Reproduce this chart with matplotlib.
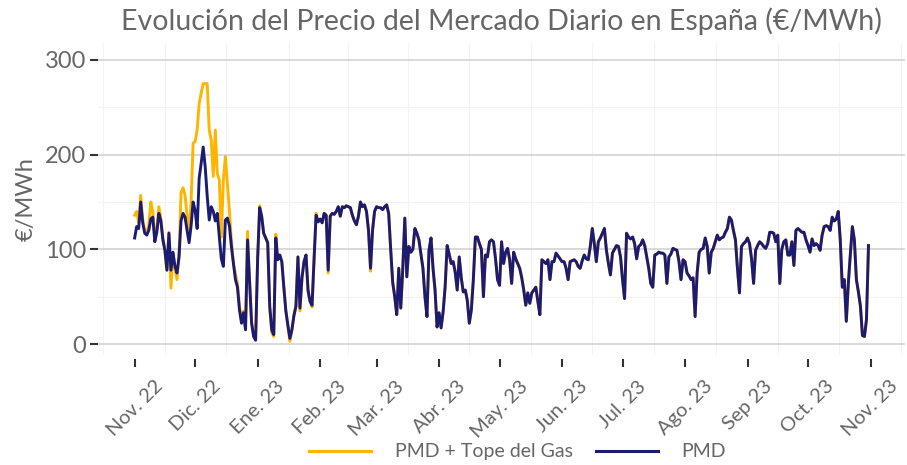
import matplotlib
matplotlib.use("Agg")
import matplotlib.pyplot as plt
import matplotlib.dates as mdates
import matplotlib.transforms as mtransforms
import numpy as np
import pandas as pd

# ---------------- data ----------------
start_date = "2022-11-01"

pmd_nov22 = [112, 124, 122, 150, 128, 117, 115, 120, 132, 134,
             108, 118, 138, 130, 110, 99, 78, 117, 78, 97,
             82, 75, 92, 130, 138, 134, 120, 107, 125, 150]
pmd_dic22 = [141, 122, 175, 191, 208, 187, 156, 131, 145, 140,
             130, 138, 113, 90, 82, 131, 133, 125, 103, 85,
             68, 60, 36, 22, 33, 15, 110, 65, 22, 8, 4]
pmd_ene23 = [90, 144, 135, 117, 112, 107, 40, 15, 10, 112,
             89, 94, 87, 60, 35, 20, 6, 15, 30, 40,
             92, 38, 70, 87, 94, 57, 45, 41, 90, 136, 129]
pmd_feb23 = [132, 128, 138, 136, 78, 135, 138, 137, 140, 145,
             135, 145, 144, 146, 145, 144, 136, 130, 126, 135,
             150, 145, 147, 140, 120, 80, 120, 140]
pmd_mar23 = [145, 144, 144, 142, 145, 147, 138, 100, 65, 50,
             31, 80, 38, 80, 133, 71, 103, 97, 100, 122,
             117, 110, 95, 80, 50, 29, 99, 112, 80, 57, 18]
pmd_abr23 = [33, 17, 34, 60, 104, 95, 85, 87, 76, 57,
             92, 70, 55, 57, 46, 22, 36, 68, 113, 113,
             106, 100, 50, 94, 92, 108, 110, 108, 90, 68]
pmd_may23 = [62, 108, 85, 97, 101, 89, 64, 97, 90, 85,
             80, 70, 57, 41, 54, 43, 54, 57, 60, 45,
             31, 89, 87, 85, 89, 68, 87, 87, 96, 93, 90]
pmd_jun23 = [87, 87, 80, 68, 87, 88, 89, 87, 82, 80,
             88, 94, 90, 89, 103, 122, 106, 87, 108, 112,
             117, 122, 99, 85, 73, 96, 100, 104, 103, 92]
pmd_jul23 = [68, 48, 117, 113, 111, 113, 106, 90, 103, 105,
             110, 104, 92, 80, 64, 60, 94, 95, 97, 96,
             96, 94, 64, 92, 95, 101, 100, 99, 87, 68, 89]
pmd_ago23 = [87, 75, 72, 68, 70, 29, 75, 97, 100, 101,
             112, 103, 75, 97, 101, 108, 115, 110, 112, 113,
             118, 122, 134, 131, 120, 110, 80, 54, 103, 106, 108]
pmd_sep23 = [112, 106, 90, 64, 99, 104, 108, 106, 103, 101,
             106, 118, 118, 117, 108, 115, 64, 100, 108, 110,
             94, 94, 108, 83, 120, 122, 120, 118, 118, 110]
pmd_oct23 = [104, 97, 111, 104, 106, 104, 99, 115, 124, 125,
             124, 120, 134, 130, 132, 140, 110, 60, 68, 24,
             64, 95, 124, 110, 68, 55, 40, 9, 8, 26, 104]

# PMD + Tope del Gas (Nov.-Dic. 2022, read directly)
tope_nov22 = [136, 140, 128, 157, 132, 120, 118, 125, 150, 140,
              112, 122, 145, 133, 112, 100, 78, 118, 59, 97,
              80, 68, 92, 160, 165, 157, 135, 114, 150, 212]
tope_dic22 = [214, 226, 254, 265, 275, 275, 275, 226, 215, 177,
              226, 180, 173, 113, 173, 198, 170, 141, 109, 85,
              74, 64, 40, 25, 35, 16, 119, 68, 24, 10, 5]
# small difference of the capped series vs PMD, Ene.-Feb. 2023
ajuste_ene_feb23 = [0, 2, 0, 0, 0, 0, -2, -3, -2, 4,
                    0, 0, 0, 0, 0, -2, -3, 0, 0, 0,
                    0, -3, 0, 0, 0, -2, 0, -2, 0, 2, 0,
                    0, 0, 0, 0, -3, 0, 0, 0, 0, 0,
                    0, 0, 0, 0, 0, 0, 0, 0, 0, 0,
                    0, 0, 0, 0, 0, -3, 0, 0]

month_labels = ["Nov. 22", "Dic. 22", "Ene. 23", "Feb. 23", "Mar. 23",
                "Abr. 23", "May. 23", "Jun. 23", "Jul. 23", "Ago. 23",
                "Sep 23", "Oct. 23", "Nov. 23"]

title = "Evolución del Precio del Mercado Diario en España (€/MWh)"
ylabel = "€/MWh"
legend_labels = ["PMD + Tope del Gas", "PMD"]

# ---------------- build series ----------------
pmd = (pmd_nov22 + pmd_dic22 + pmd_ene23 + pmd_feb23 + pmd_mar23 + pmd_abr23
       + pmd_may23 + pmd_jun23 + pmd_jul23 + pmd_ago23 + pmd_sep23 + pmd_oct23)
dates = pd.date_range(start_date, periods=len(pmd), freq="D")
xd = mdates.date2num(dates.to_pydatetime())

n_2022 = len(tope_nov22) + len(tope_dic22)
tope = list(tope_nov22) + list(tope_dic22)
rest = pmd[n_2022:]
adj = ajuste_ene_feb23 + [0] * (len(rest) - len(ajuste_ene_feb23))
tope += [p + a for p, a in zip(rest, adj)]

# ---------------- styling ----------------
YELLOW = "#FFB400"
NAVY = "#1B1B73"
TXT = "#666666"
FONT = ["Lato", "DejaVu Sans"]

plt.rcParams["font.family"] = FONT

fig = plt.figure(figsize=(9.07, 4.65), dpi=100)
ax = fig.add_axes([0.108, 0.2357, 0.890, 0.672])

ax.plot(xd, tope, color=YELLOW, lw=2.1, solid_joinstyle="round", zorder=3)
ax.plot(xd, pmd, color=NAVY, lw=2.1, solid_joinstyle="round", zorder=4)

x0 = xd[0] - 18.2
x1 = xd[-1] + 18.2
ax.set_xlim(x0, x1)
ax.set_ylim(-12, 318)

# ticks
major = mdates.date2num(pd.date_range("2022-11-01", "2023-11-01",
                                      freq="MS").to_pydatetime())
mids = [(major[i] + major[i + 1]) / 2 for i in range(len(major) - 1)]
mids = [major[0] - 15.5] + mids + [major[-1] + 15]
ax.xaxis.set_major_locator(matplotlib.ticker.FixedLocator(major))
ax.xaxis.set_major_formatter(matplotlib.ticker.FixedFormatter(month_labels))
ax.xaxis.set_minor_locator(matplotlib.ticker.FixedLocator(mids))

ax.set_yticks([0, 100, 200, 300])
ax.set_yticklabels(["0", "100", "200", "300"], fontsize=17, color=TXT)
ax.set_yticks([50, 150, 250], minor=True)

ax.tick_params(axis="x", which="major", length=5.5, width=1.5, color="#333333",
               pad=8, labelsize=14.5, labelcolor=TXT, labelrotation=45)
ax.tick_params(axis="y", which="major", length=5.5, width=1.5, color="#333333",
               pad=3)
ax.tick_params(which="minor", length=0)
offset = mtransforms.ScaledTranslation(3 / 100, 0, fig.dpi_scale_trans)
for lab in ax.get_xticklabels():
    lab.set_horizontalalignment("center")
    lab.set_verticalalignment("top")
    lab.set_rotation(45)
    lab.set_transform(lab.get_transform() + offset)

for s in ["top", "right", "left"]:
    ax.spines[s].set_visible(False)
ax.spines["bottom"].set_position(("outward", 2.5))
ax.spines["bottom"].set_visible(False)

ax.grid(False)
ax.grid(axis="y", which="major", color="#CFCFCF", lw=1.1, zorder=0)
ax.grid(axis="y", which="minor", color="#F3F3F3", lw=0.8, zorder=0)
ax.grid(axis="x", which="minor", color="#F3F3F3", lw=0.8, zorder=0)
ax.set_axisbelow(True)

ax.set_ylabel(ylabel, fontsize=17, color=TXT, labelpad=6)
fig.text(0.5525, 0.955, title, ha="center", va="center", fontsize=20.5,
         color=TXT)

handles = [plt.Line2D([], [], color=YELLOW, lw=2.2),
           plt.Line2D([], [], color=NAVY, lw=2.2)]
leg = fig.legend(handles, legend_labels, loc="center",
                 bbox_to_anchor=(0.5705, 0.028), ncol=2, frameon=False,
                 fontsize=14, handlelength=3.2, handletextpad=1.2,
                 columnspacing=1.2, labelcolor=TXT)

fig.savefig("out.png", dpi=100)
